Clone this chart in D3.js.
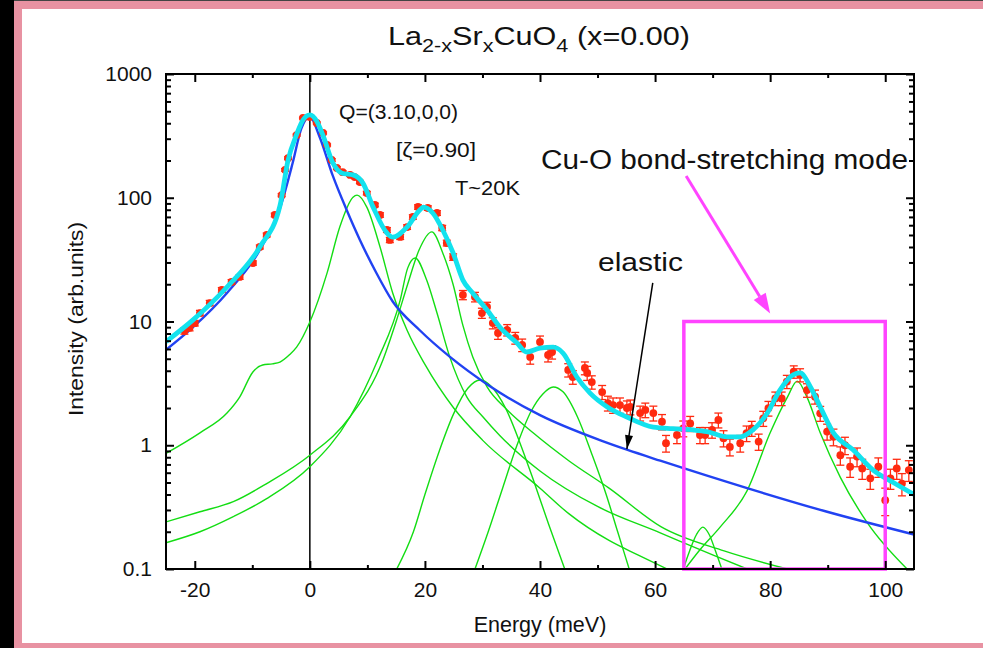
<!DOCTYPE html>
<html>
<head>
<meta charset="utf-8">
<script src="https://cdn.jsdelivr.net/npm/d3@7"></script>
<style>
  body { margin: 0; background: #fff; }
  svg { display: block; font-family: "Liberation Sans", Arial, Helvetica, sans-serif; }
</style>
</head>
<body>
<svg id="chart" width="983" height="648"></svg>
<script>
'use strict';

// ---- measured points (energy meV, intensity, error) ----
var energy = [
  -21.8, -20.9, -20.0, -19.1, -17.4, -15.3, -13.6, -12.2, -9.9, -8.7, -7.5, -6.1, -4.9, -4.3, -3.8, -2.3, -1.2,
  0, 1.2, 2.3, 3.0, 3.8, 4.7, 5.7, 7.0, 7.8, 8.7, 9.9, 11.3, 12.2, 13.4, 13.9, 15.7, 16.9, 17.9, 18.8,
  20.5, 22.1, 23.0, 23.8, 24.9, 26.6, 28.7, 29.9, 30.8, 31.8, 32.7, 34.3, 35.7, 36.9, 38.3,
  40.0, 41.4, 42.1, 44.9, 45.7, 47.8, 48.2, 49.0, 50.8, 51.8, 52.7, 53.9, 55.1, 55.7, 57.4, 58.3, 59.7,
  61.2, 61.9, 63.8, 64.9, 66.1, 67.8, 68.7, 69.9, 71.0, 71.9, 73.0, 74.8, 75.9, 76.8, 78.0, 78.8, 79.7,
  80.9, 82.0, 82.9, 84.1, 85.2, 86.4, 87.8, 88.7, 89.9, 91.0, 92.2, 93.0, 93.9, 95.1, 96.0, 97.4, 98.8,
  100.0, 100.9, 102.0, 102.9, 104.1
];
var intensity = [
  8.4, 8.9, 9.7, 11.7, 14.1, 18.0, 20.9, 22.9, 29.7, 40.0, 50.0, 72.6, 105, 168, 209, 321, 441,
  450, 402, 334, 267, 202, 174, 161, 153, 147, 134, 109, 87.4, 72.6, 54.9, 45.6, 48.2, 58.0, 69.9, 84.2,
  82.6, 75.3, 57.0, 43.1, 33.2, 16.4, 15.8, 11.7, 13.1, 9.72, 8.07, 8.54, 7.36, 6.46, 5.17,
  6.83, 5.36, 5.67, 4.06, 3.56, 4.21, 3.84, 3.24, 2.69, 2.19, 2.11, 2.11, 2.00, 2.04, 1.82, 1.93, 1.82,
  1.55, 1.04, 1.21, 1.37, 1.50, 1.21, 1.21, 1.33, 1.60, 1.14, 0.97, 1.04, 1.25, 1.37, 1.07, 1.65, 1.99,
  2.39, 2.39, 3.27, 3.93, 3.70, 2.79, 2.47, 1.81, 1.29, 1.17, 0.83, 1.00, 0.67, 0.81, 0.65, 0.54, 0.67,
  0.36, 0.54, 0.65, 0.49, 0.63
];
var errorBar = [
  0.5, 0.5, 0.5, 0.6, 0.7, 0.8, 0.9, 1.0, 1.2, 1.5, 1.8, 2.4, 3, 4, 5, 6, 7,
  7, 7, 6, 5, 5, 4, 4, 4, 4, 4, 3.5, 3, 3, 2.5, 2.2, 2.2, 2.5, 3, 3.5,
  3.5, 3.3, 2.8, 2.3, 2, 1.4, 1.4, 1.1, 1.2, 1.0, 0.9, 0.9, 0.8, 0.75, 0.65,
  0.8, 0.65, 0.7, 0.5, 0.45, 0.5, 0.5, 0.4, 0.35, 0.3, 0.3, 0.3, 0.28, 0.28, 0.25, 0.26, 0.25,
  0.22, 0.16, 0.18, 0.2, 0.21, 0.18, 0.18, 0.19, 0.22, 0.17, 0.15, 0.16, 0.18, 0.19, 0.16, 0.23, 0.27,
  0.3, 0.3, 0.4, 0.45, 0.45, 0.35, 0.32, 0.25, 0.19, 0.18, 0.14, 0.16, 0.12, 0.14, 0.12, 0.1, 0.12,
  0.09, 0.1, 0.12, 0.1, 0.12
];

// ---- fitted curves as [energy, intensity] ----
var elasticLine = [
  [-25, 5.9], [-20.3, 9.0], [-14.4, 17.0], [-8.7, 37.8], [-5.2, 82], [-3.0, 190], [-1.5, 360], [0, 450],
  [1.7, 310], [4.0, 150], [6.4, 79.6], [8.7, 45.6], [11.5, 25], [14.4, 14.5], [19.1, 8.5], [24.3, 5.2],
  [31.3, 3.0], [40, 1.75], [50.4, 1.1], [55.1, 0.92], [60.9, 0.75], [76, 0.45], [89.9, 0.29], [105, 0.19]
];
var totalFit = [
  [-25, 6.87], [-20.3, 10.3], [-14.4, 19.0], [-8.7, 40.0], [-5.2, 86], [-3.8, 200], [-2.3, 325], [-1.2, 425],
  [0, 467], [1.2, 415], [2.3, 318], [4, 191], [5.6, 158], [7.5, 153], [9.2, 132], [11, 84], [13.4, 51.9],
  [14.4, 48], [16.9, 58], [19.1, 79.6], [19.7, 84], [21.4, 75], [23.1, 54.9], [24.9, 35.8], [26.6, 21.6],
  [28.3, 17.0], [30.8, 12.4], [33, 9.03], [36, 6.7], [37.7, 5.67], [40, 6.1], [42.3, 6.2], [44, 5.56],
  [46.4, 3.56], [48.7, 2.64], [51.7, 2.04], [55.1, 1.69], [59.7, 1.40], [63, 1.36], [66.6, 1.33], [69, 1.29],
  [72.5, 1.17], [74.8, 1.17], [77, 1.33], [79.5, 1.82], [81.7, 2.79], [84, 3.70], [85.2, 3.84], [87, 2.96],
  [88.7, 2.04], [91, 1.26], [94.4, 0.92], [97.9, 0.63], [101.4, 0.50], [105, 0.40]
];
var mode8 = [
  [-25, 0.86], [-19.1, 1.26], [-14.4, 1.82], [-12.2, 2.45], [-9.9, 3.91], [-8.2, 4.45], [-6.5, 4.55],
  [-5.2, 4.7], [-3.5, 5.4], [-2.3, 6.2], [0, 9.9], [3, 24.7], [5.2, 58], [7.5, 101], [8.2, 105], [9.9, 84],
  [12.2, 40], [14.4, 17], [16.9, 8.5], [20, 4.5], [25, 2.0], [30, 1.1], [40, 0.45], [45, 0.28], [52, 0.17],
  [57, 0.13], [62.1, 0.1]
];
var mode18 = [
  [-25, 0.163], [-19.1, 0.20], [-13.3, 0.265], [-7.5, 0.37], [0, 0.67], [7, 1.70], [11.8, 4.89], [15.7, 14.9],
  [17, 27], [18.3, 32.6], [20.3, 21.6], [22.1, 11.7], [24.3, 5.2], [27.3, 2.45], [30.1, 1.69], [33, 1.2],
  [40, 0.62], [50, 0.32], [61, 0.195], [70, 0.13], [76, 0.1]
];
var mode21 = [
  [-25, 0.24], [-19.1, 0.29], [-13.3, 0.35], [-7.5, 0.49], [0, 0.83], [7, 1.70], [12.7, 4.89], [15, 10],
  [17, 20], [19, 38], [21.2, 53], [23.1, 35.8], [24.9, 19.9], [26.6, 9.3], [28.3, 5.2], [30.8, 2.96],
  [34.3, 1.93], [38.8, 1.26], [45, 0.75], [52, 0.45], [61, 0.22], [72, 0.14], [83, 0.1]
];
var mode30 = [
  [15.1, 0.1], [18, 0.2], [20, 0.4], [22.5, 0.9], [25, 1.8], [27.5, 2.9], [29.6, 3.37], [31.5, 3.0],
  [34, 2.0], [36.5, 1.05], [39, 0.5], [41.5, 0.23], [44.3, 0.1]
];
var mode42 = [
  [28.7, 0.1], [31, 0.2], [33.5, 0.45], [36, 1.0], [38.5, 1.9], [40.5, 2.6], [42.3, 2.96], [44, 2.7],
  [46.5, 1.7], [49, 0.85], [51.5, 0.4], [53.5, 0.2], [55.5, 0.1]
];
var mode68 = [
  [64.9, 0.1], [66, 0.14], [67.2, 0.19], [68.3, 0.218], [69.4, 0.19], [70.5, 0.14], [71.6, 0.1]
];
var mode85 = [
  [65.2, 0.1], [67.8, 0.143], [71.3, 0.218], [76, 0.43], [80, 1.26], [83, 2.45], [84.7, 3.3], [86.4, 2.45],
  [88.7, 1.26], [92.2, 0.55], [96.9, 0.236], [103.8, 0.1]
];
var greenModes = [mode8, mode18, mode21, mode30, mode42, mode68, mode85];

// ---- axes ----
var xMajor = [-20, 0, 20, 40, 60, 80, 100];
var xMinor = [-10, 10, 30, 50, 70, 90];
var yMajor = [0.1, 1, 10, 100, 1000];
var yLabels = ['0.1', '1', '10', '100', '1000'];

// ---- annotations, in data units ----
var boxRange = { e0: 65, e1: 100, v0: 0.1, v1: 10 };
var elasticArrow = [[59.6, 20.5], [55.1, 0.93]];
var modeArrow = [[65.4, 150], [80, 11.6]];

(function(){
  var svg = d3.select('#chart'),
      pL = 166, pR = 914, pT = 74, pB = 569;

  var x = d3.scaleLinear().domain([-25, 105]).range([pL, pR]),
      y = d3.scaleLog().domain([0.1, 1000]).range([pB, pT]);

  // page frame
  svg.append('rect').attr('x', 0).attr('y', 0).attr('width', 983).attr('height', 648).attr('fill', '#fff');
  svg.append('rect').attr('x', 0).attr('y', 0).attr('width', 14).attr('height', 648).attr('fill', '#000');
  svg.append('rect').attr('x', 14).attr('y', 0).attr('width', 8).attr('height', 648).attr('fill', '#e892a2');
  svg.append('rect').attr('x', 14).attr('y', 0).attr('width', 969).attr('height', 9).attr('fill', '#e892a2');
  svg.append('rect').attr('x', 14).attr('y', 643).attr('width', 969).attr('height', 5).attr('fill', '#e892a2');
  svg.append('rect').attr('x', 14).attr('y', 0).attr('width', 969).attr('height', 1).attr('fill', '#444');

  svg.append('clipPath').attr('id', 'plotClip')
    .append('rect').attr('x', pL).attr('y', pT).attr('width', pR - pL).attr('height', pB - pT);

  var plot = svg.append('g').attr('clip-path', 'url(#plotClip)');

  var line = d3.line()
    .x(function(d){ return x(d[0]); })
    .y(function(d){ return y(d[1]); })
    .curve(d3.curveMonotoneX);

  // zero line
  plot.append('line')
    .attr('x1', x(0)).attr('x2', x(0)).attr('y1', pT).attr('y2', pB)
    .attr('stroke', '#000').attr('stroke-width', 1.5);

  // green components
  plot.selectAll('path.mode').data(greenModes).enter().append('path')
    .attr('class', 'mode')
    .attr('d', line)
    .attr('fill', 'none').attr('stroke', '#13dd13').attr('stroke-width', 1.4);

  // elastic
  plot.append('path').attr('d', line(elasticLine))
    .attr('fill', 'none').attr('stroke', '#2142f2').attr('stroke-width', 2.4);

  // data with error bars
  var pts = energy.map(function(e, i){ return { e: e, v: intensity[i], err: errorBar[i] }; });
  var pg = plot.append('g').attr('fill', '#ff2a10').attr('stroke', '#ff2a10');
  pts.forEach(function(p){
    var px = x(p.e), yHi = y(p.v + p.err), yLo = y(Math.max(p.v - p.err, 0.01));
    pg.append('line').attr('x1', px).attr('x2', px).attr('y1', yHi).attr('y2', yLo).attr('stroke-width', 1.3);
    pg.append('line').attr('x1', px - 4).attr('x2', px + 4).attr('y1', yHi).attr('y2', yHi).attr('stroke-width', 1.3);
    pg.append('line').attr('x1', px - 4).attr('x2', px + 4).attr('y1', yLo).attr('y2', yLo).attr('stroke-width', 1.3);
    pg.append('circle').attr('cx', px).attr('cy', y(p.v)).attr('r', 3.9).attr('stroke', 'none');
  });

  // total fit
  plot.append('path').attr('d', line(totalFit))
    .attr('fill', 'none').attr('stroke', '#12e2ee').attr('stroke-width', 4.8)
    .attr('stroke-linejoin', 'round');

  // magenta box
  svg.append('rect')
    .attr('x', x(boxRange.e0)).attr('y', y(boxRange.v1))
    .attr('width', x(boxRange.e1) - x(boxRange.e0)).attr('height', y(boxRange.v0) - y(boxRange.v1))
    .attr('fill', 'none').attr('stroke', '#ff44ff').attr('stroke-width', 3.5);

  // axes
  var axes = svg.append('g').attr('class', 'axes');
  axes.append('g').attr('transform', 'translate(0,' + pB + ')')
    .call(d3.axisBottom(x).tickValues(xMajor).tickSizeInner(-8).tickSizeOuter(0).tickPadding(13)
      .tickFormat(function(d){ return String(d); }));
  axes.append('g').attr('transform', 'translate(0,' + pB + ')')
    .call(d3.axisBottom(x).tickValues(xMinor).tickSizeInner(-4).tickSizeOuter(0).tickFormat(''));
  axes.append('g').attr('transform', 'translate(0,' + pT + ')')
    .call(d3.axisTop(x).tickValues(xMajor).tickSizeInner(-8).tickSizeOuter(0).tickFormat(''));
  axes.append('g').attr('transform', 'translate(0,' + pT + ')')
    .call(d3.axisTop(x).tickValues(xMinor).tickSizeInner(-4).tickSizeOuter(0).tickFormat(''));

  var yMinor = [];
  [0.1, 1, 10, 100].forEach(function(dec){
    for (var k = 2; k <= 9; k++){ yMinor.push(dec * k); }
  });
  axes.append('g').attr('transform', 'translate(' + pL + ',0)')
    .call(d3.axisLeft(y).tickValues(yMajor).tickSizeInner(-8).tickSizeOuter(0).tickPadding(14)
      .tickFormat(function(d, i){ return yLabels[i]; }));
  axes.append('g').attr('transform', 'translate(' + pL + ',0)')
    .call(d3.axisLeft(y).tickValues(yMinor).tickSizeInner(-5).tickSizeOuter(0).tickFormat(''));
  axes.append('g').attr('transform', 'translate(' + pR + ',0)')
    .call(d3.axisRight(y).tickValues(yMajor).tickSizeInner(-8).tickSizeOuter(0).tickFormat(''));
  axes.append('g').attr('transform', 'translate(' + pR + ',0)')
    .call(d3.axisRight(y).tickValues(yMinor).tickSizeInner(-5).tickSizeOuter(0).tickFormat(''));

  axes.selectAll('.domain').remove();
  axes.selectAll('.tick line').attr('stroke', '#000').attr('stroke-width', 2);
  axes.selectAll('.tick text').attr('font-size', 21).attr('fill', '#111')
    .attr('font-family', '"Liberation Sans", Arial, sans-serif');

  svg.append('rect').attr('x', pL).attr('y', pT).attr('width', pR - pL).attr('height', pB - pT)
    .attr('fill', 'none').attr('stroke', '#000').attr('stroke-width', 2);

  // arrows
  function arrowHead(p0, p1, len, half){
    var dx = p1[0] - p0[0], dy = p1[1] - p0[1], d = Math.sqrt(dx * dx + dy * dy),
        ux = dx / d, uy = dy / d,
        bx = p1[0] - ux * len, by = p1[1] - uy * len;
    return [[p1[0], p1[1]], [bx - uy * half, by + ux * half], [bx + uy * half, by - ux * half]];
  }
  var ea0 = [x(elasticArrow[0][0]), y(elasticArrow[0][1])],
      ea1 = [x(elasticArrow[1][0]), y(elasticArrow[1][1])];
  svg.append('line').attr('x1', ea0[0]).attr('y1', ea0[1]).attr('x2', ea1[0]).attr('y2', ea1[1])
    .attr('stroke', '#000').attr('stroke-width', 1.5);
  var eh = arrowHead(ea0, ea1, 14, 4);
  svg.append('polygon').attr('points', eh.map(function(p){ return p.join(','); }).join(' '))
    .attr('fill', '#000');

  var ma0 = [x(modeArrow[0][0]), y(modeArrow[0][1])],
      ma1 = [x(modeArrow[1][0]), y(modeArrow[1][1])];
  var mh = arrowHead(ma0, ma1, 20, 7);
  svg.append('line').attr('x1', ma0[0]).attr('y1', ma0[1])
    .attr('x2', (mh[1][0] + mh[2][0]) / 2).attr('y2', (mh[1][1] + mh[2][1]) / 2)
    .attr('stroke', '#ff44ff').attr('stroke-width', 3);
  svg.append('polygon').attr('points', mh.map(function(p){ return p.join(','); }).join(' '))
    .attr('fill', '#ff44ff');

  // texts (the original lettering is slightly widened, so fit widths)
  var txt = svg.append('g').attr('fill', '#111');
  var title = txt.append('text').attr('x', 388).attr('y', 45).attr('font-size', 25.5)
    .attr('textLength', 302).attr('lengthAdjust', 'spacingAndGlyphs');
  title.append('tspan').text('La');
  title.append('tspan').attr('dy', 7).attr('font-size', 18).text('2-x');
  title.append('tspan').attr('dy', -7).text('Sr');
  title.append('tspan').attr('dy', 7).attr('font-size', 18).text('x');
  title.append('tspan').attr('dy', -7).text('CuO');
  title.append('tspan').attr('dy', 7).attr('font-size', 18).text('4');
  title.append('tspan').attr('dy', -7).text(' (x=0.00)');

  function label(px, py, size, width, s){
    return txt.append('text').attr('x', px).attr('y', py).attr('font-size', size)
      .attr('textLength', width).attr('lengthAdjust', 'spacingAndGlyphs').text(s);
  }
  label(339, 119, 20.5, 119, 'Q=(3.10,0,0)');
  label(396, 157, 20.5, 80, '[\u03b6=0.90]');
  label(455, 195, 20.5, 65, 'T~20K');
  label(541, 169, 27, 367, 'Cu-O bond-stretching mode');
  label(598, 271, 26, 85, 'elastic');

  txt.append('text').attr('x', 540).attr('y', 632).attr('text-anchor', 'middle').attr('font-size', 21.5)
    .text('Energy (meV)');
  txt.append('text').attr('transform', 'translate(83,416) rotate(-90)')
    .attr('font-size', 19.5).attr('textLength', 194).attr('lengthAdjust', 'spacingAndGlyphs')
    .text('Intensity (arb.units)');
})();
</script>
</body>
</html>
